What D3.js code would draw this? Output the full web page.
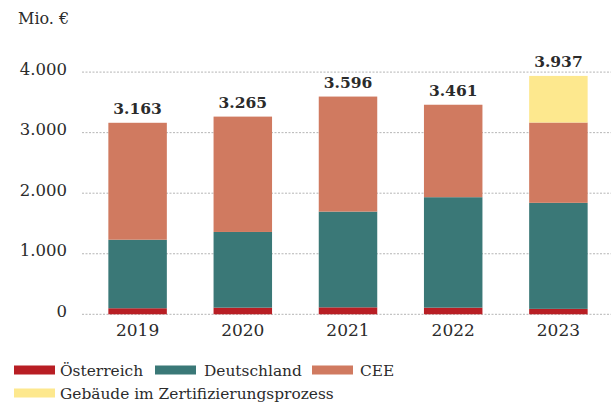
<!DOCTYPE html>
<html>
<head>
<meta charset="utf-8">
<script src="https://cdn.jsdelivr.net/npm/d3@7"></script>
<style>
  body { margin: 0; background: #fff; }
  text { font-family: "DejaVu Serif", serif; fill: #2b2b2b; }
</style>
</head>
<body>
<svg id="chart" width="616" height="403"></svg>
<script>
// values (Mio. €)
const years = ["2019", "2020", "2021", "2022", "2023"];
const oesterreich = [100, 110, 115, 110, 90];
const deutschland = [1132, 1250, 1581, 1824, 1751];
const cee = [1931, 1905, 1900, 1527, 1326];
const zertifizierung = [0, 0, 0, 0, 770];
const totals = ["3.163", "3.265", "3.596", "3.461", "3.937"];
const yTicks = [0, 1000, 2000, 3000, 4000];

const seriesNames = ["Österreich", "Deutschland", "CEE", "Gebäude im Zertifizierungsprozess"];
const colors = ["#b81e24", "#3a7877", "#d07a60", "#fde88e"];

const svg = d3.select("#chart");

const x = d3.scaleBand()
  .domain(years)
  .range([85, 611])
  .paddingInner(0.444)
  .paddingOuter(0.222);

const y = d3.scaleLinear()
  .domain([0, 4000])
  .range([314.3, 72.1]);

const fmt = d3.formatLocale({ decimal: ",", thousands: ".", grouping: [3], currency: ["", "€"] }).format(",");

// gridlines
svg.append("g")
  .selectAll("line")
  .data(yTicks)
  .join("line")
  .attr("x1", 82)
  .attr("x2", 611)
  .attr("y1", d => y(d))
  .attr("y2", d => y(d))
  .attr("stroke", "#b5b5b5")
  .attr("stroke-width", 1)
  .attr("stroke-dasharray", "2,1.5");

// y tick labels
svg.append("g")
  .selectAll("text")
  .data(yTicks)
  .join("text")
  .attr("x", 67)
  .attr("y", d => y(d) + 2.5)
  .attr("text-anchor", "end")
  .attr("font-size", 16.5)
  .text(d => fmt(d));

svg.append("text")
  .attr("x", 18)
  .attr("y", 24)
  .attr("font-size", 16)
  .text("Mio. €");

// stacked bars
const rows = years.map((yr, i) => ({
  year: yr,
  s0: oesterreich[i],
  s1: deutschland[i],
  s2: cee[i],
  s3: zertifizierung[i]
}));

const stack = d3.stack().keys(["s0", "s1", "s2", "s3"]);
const layers = stack(rows);

svg.append("g")
  .selectAll("g")
  .data(layers)
  .join("g")
  .attr("fill", (d, i) => colors[i])
  .selectAll("rect")
  .data(d => d)
  .join("rect")
  .attr("x", d => x(d.data.year))
  .attr("width", x.bandwidth())
  .attr("y", d => y(d[1]))
  .attr("height", d => y(d[0]) - y(d[1]));

// totals on top
const topLayer = layers[layers.length - 1];
svg.append("g")
  .selectAll("text")
  .data(topLayer)
  .join("text")
  .attr("x", d => x(d.data.year) + x.bandwidth() / 2)
  .attr("y", d => y(d[1]) - 9)
  .attr("text-anchor", "middle")
  .attr("font-size", 15.5)
  .attr("font-weight", "bold")
  .text((d, i) => totals[i]);

// x labels
svg.append("g")
  .selectAll("text")
  .data(years)
  .join("text")
  .attr("x", d => x(d) + x.bandwidth() / 2)
  .attr("y", 336)
  .attr("text-anchor", "middle")
  .attr("font-size", 17)
  .text(d => d);

// legend
const legendPos = [
  { x: 14, y: 370, tx: 60 },
  { x: 155, y: 370, tx: 204 },
  { x: 312, y: 370, tx: 360 },
  { x: 14, y: 393, tx: 60 }
];

const legend = svg.append("g")
  .selectAll("g")
  .data(seriesNames)
  .join("g");

legend.append("rect")
  .attr("x", (d, i) => legendPos[i].x)
  .attr("y", (d, i) => legendPos[i].y - 4.5)
  .attr("width", 41)
  .attr("height", 9)
  .attr("fill", (d, i) => colors[i]);

legend.append("text")
  .attr("x", (d, i) => legendPos[i].tx)
  .attr("y", (d, i) => legendPos[i].y + 5.5)
  .attr("font-size", 15.4)
  .text(d => d);
</script>
</body>
</html>
